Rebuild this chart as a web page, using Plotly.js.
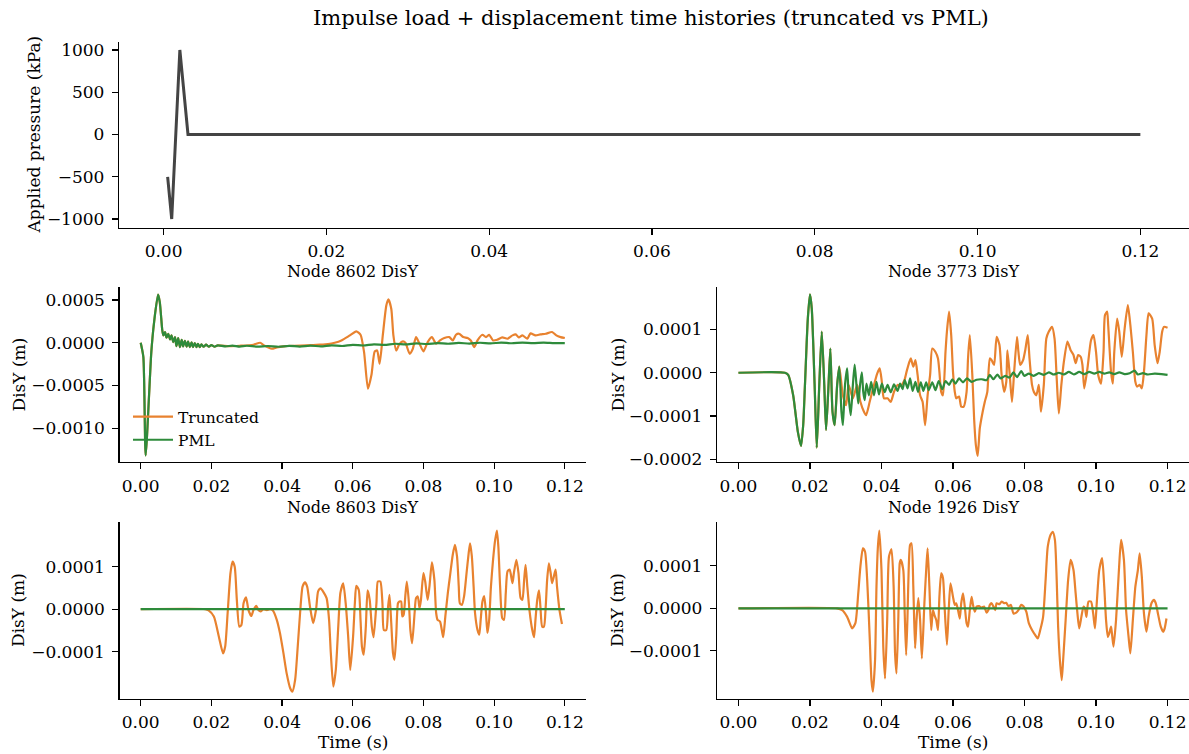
<!DOCTYPE html>
<html><head><meta charset="utf-8">
<script src="https://cdn.plot.ly/plotly-3.0.1.min.js"></script>
<style>html,body{margin:0;padding:0;background:#fff}#chart{width:1189px;height:754px}</style>
</head><body><div id="chart"></div>
<script>
// ---------- DATA ----------
const xTicks = [0, 0.02, 0.04, 0.06, 0.08, 0.10, 0.12];
const loadTicks = [-1000, -500, 0, 500, 1000];
const disTicksBig = [-0.001, -0.0005, 0, 0.0005];
const disTicks3773 = [-0.0002, -0.0001, 0, 0.0001];
const disTicksSmall = [-0.0001, 0, 0.0001];

// applied pressure (kPa)
const loadTime = [0.0005, 0.001, 0.002, 0.003, 0.12];
const loadKPa = [-500, -1000, 1000, 0, 0];

// Node 8602 DisY (m): common early response, then each model
const early8602 = [[0,0],[0.00075,-1.67e-4],[0.0014,-13.16e-4],[0.003,-1.09e-4],[0.0038,2.45e-4],[0.0049,5.61e-4],[0.0054,4.75e-4],[0.0061,1.48e-4],[0.0064,0.86e-4],[0.0069,1.25e-4],[0.0073,0.58e-4],[0.0078,1.05e-4],[0.0083,0.39e-4],[0.0087,0.86e-4],[0.0092,0.08e-4],[0.0097,0.66e-4],[0.0101,-0.39e-4],[0.0106,0.55e-4],[0.0111,-0.51e-4],[0.0116,0.35e-4],[0.012,-0.43e-4],[0.0125,0.23e-4],[0.013,-0.47e-4],[0.0134,0.16e-4],[0.0139,-0.51e-4],[0.0144,0.04e-4],[0.0148,-0.51e-4],[0.0153,-0.04e-4],[0.0158,-0.51e-4],[0.0162,-0.12e-4],[0.0167,-0.51e-4],[0.0172,-0.19e-4],[0.0178,-0.47e-4],[0.0185,-0.23e-4],[0.0193,-0.47e-4],[0.02,-0.27e-4],[0.0209,-0.47e-4],[0.0218,-0.31e-4]];
const pml8602 = [[0.024,-0.43e-4],[0.026,-0.33e-4],[0.028,-0.45e-4],[0.03,-0.35e-4],[0.033,-0.45e-4],[0.036,-0.38e-4],[0.039,-0.47e-4],[0.042,-0.36e-4],[0.045,-0.45e-4],[0.048,-0.34e-4],[0.051,-0.42e-4],[0.054,-0.3e-4],[0.057,-0.38e-4],[0.06,-0.25e-4],[0.063,-0.32e-4],[0.066,-0.18e-4],[0.069,-0.25e-4],[0.072,-0.12e-4],[0.075,-0.2e-4],[0.078,-0.08e-4],[0.081,-0.15e-4],[0.084,-0.05e-4],[0.087,-0.12e-4],[0.09,-0.02e-4],[0.093,-0.1e-4],[0.096,0],[0.099,-0.08e-4],[0.102,0.02e-4],[0.105,-0.06e-4],[0.108,0.02e-4],[0.111,-0.05e-4],[0.114,0.02e-4],[0.117,-0.04e-4],[0.12,-0.04e-4]];
const trunc8602 = [[0.025,-0.4e-4],[0.028,-0.35e-4],[0.0319,-0.23e-4],[0.0338,0],[0.0349,-0.31e-4],[0.0371,-0.7e-4],[0.0385,-0.55e-4],[0.0404,-0.43e-4],[0.0432,-0.35e-4],[0.0469,-0.31e-4],[0.0507,-0.23e-4],[0.053,-0.16e-4],[0.0549,0],[0.0568,0.27e-4],[0.0592,0.86e-4],[0.061,1.32e-4],[0.0622,0.93e-4],[0.0632,-1.09e-4],[0.0643,-5.37e-4],[0.0653,-3.74e-4],[0.0662,-1.05e-4],[0.0669,-0.9e-4],[0.0676,-2.45e-4],[0.0685,0.86e-4],[0.0695,4.36e-4],[0.0701,5.06e-4],[0.0709,3.97e-4],[0.0715,0.86e-4],[0.0723,-0.9e-4],[0.0732,-0.16e-4],[0.0742,0.16e-4],[0.0749,0],[0.0761,-1.29e-4],[0.077,-0.7e-4],[0.0779,0.66e-4],[0.0789,-0.12e-4],[0.08,-1.01e-4],[0.0812,0.08e-4],[0.0824,0.66e-4],[0.0836,-0.12e-4],[0.0847,0.27e-4],[0.0859,0.55e-4],[0.0873,0.66e-4],[0.0883,0.27e-4],[0.0892,0.93e-4],[0.0901,1.05e-4],[0.0913,0.66e-4],[0.0925,0.55e-4],[0.0934,0.27e-4],[0.0944,-0.51e-4],[0.0953,0.27e-4],[0.0967,0.93e-4],[0.0977,0.66e-4],[0.0986,0.93e-4],[0.0997,0.27e-4],[0.1009,0.35e-4],[0.1023,0.62e-4],[0.1038,0.47e-4],[0.1052,0.86e-4],[0.1061,0.97e-4],[0.107,0.62e-4],[0.108,0.86e-4],[0.1094,0.47e-4],[0.1103,1.09e-4],[0.1117,0.86e-4],[0.1131,0.97e-4],[0.1146,1.05e-4],[0.1164,1.25e-4],[0.1176,0.86e-4],[0.1188,0.66e-4],[0.12,0.55e-4]];

// Node 3773 DisY (m)
const early3773 = [[0,0],[0.013,0],[0.0139,-0.05e-4],[0.0153,-0.52e-4],[0.0166,-1.36e-4],[0.0175,-1.69e-4],[0.0181,-1.21e-4],[0.0186,-0.28e-4],[0.0194,1.25e-4],[0.02,1.81e-4],[0.0205,1.48e-4],[0.0213,-0.28e-4],[0.0219,-1.73e-4],[0.0226,-0.28e-4],[0.0233,0.95e-4],[0.024,-0.28e-4],[0.0245,-1.32e-4],[0.0251,-0.44e-4],[0.0257,0.56e-4],[0.0263,-0.9e-4],[0.0269,-1.21e-4],[0.0276,-0.28e-4],[0.0282,0.14e-4]];
const pml3773 = [[0.0288,-0.9e-4],[0.0292,-1.21e-4],[0.0298,-0.28e-4],[0.0304,0.1e-4],[0.0308,-0.52e-4],[0.0314,-0.98e-4],[0.032,-0.28e-4],[0.0325,0.19e-4],[0.033,-0.28e-4],[0.0335,-0.71e-4],[0.034,-0.28e-4],[0.0345,0.01e-4],[0.0349,-0.44e-4],[0.0353,-0.63e-4],[0.0358,-0.25e-4],[0.0365,-0.52e-4],[0.0371,-0.21e-4],[0.0379,-0.52e-4],[0.0386,-0.21e-4],[0.0393,-0.5e-4],[0.0401,-0.25e-4],[0.0409,-0.45e-4],[0.0417,-0.28e-4],[0.0426,-0.45e-4],[0.0435,-0.27e-4],[0.0445,-0.42e-4],[0.0452,-0.25e-4],[0.0459,-0.38e-4],[0.0465,-0.17e-4],[0.0473,-0.36e-4],[0.048,-0.13e-4],[0.0487,-0.42e-4],[0.0495,-0.21e-4],[0.0502,-0.44e-4],[0.051,-0.22e-4],[0.0517,-0.42e-4],[0.0525,-0.22e-4],[0.0532,-0.4e-4],[0.0542,-0.22e-4],[0.0551,-0.4e-4],[0.056,-0.19e-4],[0.057,-0.38e-4],[0.0579,-0.19e-4],[0.0589,-0.28e-4],[0.0598,-0.15e-4],[0.0607,-0.25e-4],[0.0617,-0.13e-4],[0.0628,-0.22e-4],[0.0639,-0.13e-4],[0.0652,-0.21e-4],[0.0666,-0.16e-4],[0.068,-0.15e-4],[0.0694,-0.17e-4],[0.0703,-0.05e-4],[0.0713,-0.15e-4],[0.0724,-0.04e-4],[0.0733,-0.13e-4],[0.0746,-0.07e-4],[0.0758,-0.11e-4],[0.0769,0.01e-4],[0.0779,-0.1e-4],[0.0791,0.04e-4],[0.0799,-0.07e-4],[0.0812,-0.02e-4],[0.0826,-0.07e-4],[0.084,-0.01e-4],[0.0854,-0.05e-4],[0.0868,0.01e-4],[0.0882,-0.04e-4],[0.0896,0],[0.091,-0.04e-4],[0.0924,0.02e-4],[0.0938,-0.04e-4],[0.0953,0.02e-4],[0.0967,-0.03e-4],[0.0981,0.02e-4],[0.0995,-0.02e-4],[0.1009,0.02e-4],[0.1023,-0.02e-4],[0.1037,0.01e-4],[0.1051,-0.03e-4],[0.1065,0.01e-4],[0.108,-0.03e-4],[0.1094,-0.01e-4],[0.1108,0.05e-4],[0.1117,-0.04e-4],[0.1131,-0.01e-4],[0.1145,-0.04e-4],[0.1164,-0.02e-4],[0.1183,-0.03e-4],[0.12,-0.05e-4]];
const trunc3773 = [[0.0292,-0.52e-4],[0.0301,-0.75e-4],[0.0308,-0.28e-4],[0.032,-0.59e-4],[0.0332,-0.28e-4],[0.0341,-0.67e-4],[0.0351,-0.9e-4],[0.0357,-0.98e-4],[0.0367,-0.67e-4],[0.0374,-0.44e-4],[0.0388,-0.02e-4],[0.0395,0.1e-4],[0.0401,-0.21e-4],[0.0407,-0.59e-4],[0.0417,-0.59e-4],[0.0426,-0.67e-4],[0.0435,-0.44e-4],[0.0445,-0.28e-4],[0.0454,-0.3e-4],[0.0464,-0.17e-4],[0.047,0.02e-4],[0.0478,0.25e-4],[0.0482,0.33e-4],[0.0489,0.14e-4],[0.0495,0.29e-4],[0.0501,-0.05e-4],[0.0508,-0.52e-4],[0.0515,-0.67e-4],[0.0522,-1.21e-4],[0.0529,-0.52e-4],[0.0536,-0.05e-4],[0.0542,0.56e-4],[0.0551,0.48e-4],[0.0558,0.33e-4],[0.0562,0.02e-4],[0.0567,-0.44e-4],[0.0572,-0.52e-4],[0.0579,0.48e-4],[0.0583,0.95e-4],[0.0589,1.41e-4],[0.0595,0.87e-4],[0.06,0.02e-4],[0.0605,-0.44e-4],[0.0609,-0.59e-4],[0.0617,-0.55e-4],[0.0623,-0.78e-4],[0.063,-0.78e-4],[0.0638,-0.44e-4],[0.0642,0.33e-4],[0.0647,0.87e-4],[0.0654,-0.05e-4],[0.0659,-1.05e-4],[0.0664,-1.67e-4],[0.0669,-1.92e-4],[0.0675,-1.28e-4],[0.0683,-0.9e-4],[0.0689,-0.67e-4],[0.0696,-0.44e-4],[0.0703,0.33e-4],[0.0708,0.29e-4],[0.0715,0.18e-4],[0.0722,0.83e-4],[0.073,0.64e-4],[0.0736,-0.05e-4],[0.0743,-0.44e-4],[0.0749,-0.21e-4],[0.0752,0.52e-4],[0.0758,0.02e-4],[0.0765,-0.67e-4],[0.0771,0.02e-4],[0.0779,0.83e-4],[0.0783,0.48e-4],[0.0788,0.18e-4],[0.0796,0.29e-4],[0.0802,0.52e-4],[0.0809,0.87e-4],[0.0814,0.33e-4],[0.0821,-0.28e-4],[0.0826,-0.44e-4],[0.0833,-0.52e-4],[0.084,-0.28e-4],[0.0846,-0.9e-4],[0.0854,-0.28e-4],[0.0861,0.79e-4],[0.0868,0.95e-4],[0.0877,1.06e-4],[0.0884,0.79e-4],[0.089,-0.13e-4],[0.0896,-0.94e-4],[0.0903,-0.28e-4],[0.091,0.25e-4],[0.092,0.72e-4],[0.0929,0.52e-4],[0.0937,0.41e-4],[0.0943,0.22e-4],[0.095,0.41e-4],[0.0957,0.37e-4],[0.0962,0.18e-4],[0.0967,-0.36e-4],[0.0976,0.1e-4],[0.0986,0.75e-4],[0.0993,0.87e-4],[0.1,0.48e-4],[0.1006,-0.05e-4],[0.1014,-0.25e-4],[0.1021,0.48e-4],[0.1025,1.33e-4],[0.1031,1.41e-4],[0.1034,1.1e-4],[0.1042,0.02e-4],[0.1047,-0.25e-4],[0.1051,0.48e-4],[0.1059,1.25e-4],[0.1065,0.95e-4],[0.1072,0.37e-4],[0.108,1.02e-4],[0.1089,1.56e-4],[0.1096,1.1e-4],[0.1103,0.48e-4],[0.111,-0.21e-4],[0.1115,-0.32e-4],[0.1122,-0.28e-4],[0.1128,-0.36e-4],[0.1134,0.02e-4],[0.1141,0.87e-4],[0.1147,1.37e-4],[0.1157,1.25e-4],[0.1164,0.64e-4],[0.1172,0.22e-4],[0.1178,0.48e-4],[0.1185,0.95e-4],[0.119,1.06e-4],[0.12,1.04e-4]];

// Node 8603 DisY (m)
const pml8603 = [[0,0],[0.12,0]];
const trunc8603 = [[0,0],[0.0183,0],[0.0192,-0.03e-4],[0.0207,-0.17e-4],[0.0221,-0.64e-4],[0.0233,-1.04e-4],[0.0239,-0.88e-4],[0.0246,-0.09e-4],[0.0254,0.85e-4],[0.026,1.12e-4],[0.0266,1.0e-4],[0.0272,0.22e-4],[0.0279,-0.41e-4],[0.0285,-0.37e-4],[0.0291,0.14e-4],[0.0298,0.28e-4],[0.0305,-0.02e-4],[0.0313,-0.16e-4],[0.0319,-0.02e-4],[0.0327,0.08e-4],[0.0333,-0.02e-4],[0.034,-0.05e-4],[0.0347,0],[0.0357,-0.02e-4],[0.0366,0],[0.0374,-0.03e-4],[0.0385,-0.25e-4],[0.0394,-0.56e-4],[0.0404,-1.04e-4],[0.0413,-1.51e-4],[0.0423,-1.86e-4],[0.0429,-1.94e-4],[0.0437,-1.66e-4],[0.0443,-1.04e-4],[0.0451,-0.09e-4],[0.0458,0.53e-4],[0.0465,0.63e-4],[0.0471,0.53e-4],[0.0479,0.06e-4],[0.0488,-0.33e-4],[0.0496,-0.02e-4],[0.0502,0.42e-4],[0.0509,0.49e-4],[0.0518,0.39e-4],[0.0526,0.26e-4],[0.0533,-0.25e-4],[0.0538,-1.04e-4],[0.0545,-1.82e-4],[0.0552,-1.43e-4],[0.0559,-0.41e-4],[0.0565,0.38e-4],[0.0573,0.61e-4],[0.058,0.14e-4],[0.0587,-0.64e-4],[0.0593,-1.43e-4],[0.0601,-0.64e-4],[0.0606,0.14e-4],[0.061,0.55e-4],[0.0617,0.45e-4],[0.0622,-0.25e-4],[0.0626,-0.88e-4],[0.0631,-1.07e-4],[0.0637,-0.41e-4],[0.0642,0.44e-4],[0.0648,0.22e-4],[0.0654,-0.41e-4],[0.0659,-0.66e-4],[0.0667,0.14e-4],[0.0671,0.65e-4],[0.0678,0.65e-4],[0.0684,0.14e-4],[0.0688,-0.49e-4],[0.0695,-0.49e-4],[0.07,0.06e-4],[0.0704,0.34e-4],[0.0709,-0.33e-4],[0.0714,-1.04e-4],[0.0718,-1.19e-4],[0.0723,-0.64e-4],[0.0728,0.14e-4],[0.0732,0.18e-4],[0.0737,0.18e-4],[0.074,-0.17e-4],[0.0744,-0.13e-4],[0.0749,0.34e-4],[0.0753,0.65e-4],[0.0759,0.14e-4],[0.0763,-0.49e-4],[0.0768,-0.8e-4],[0.0775,-0.09e-4],[0.0779,0.26e-4],[0.0784,0.3e-4],[0.0789,0.02e-4],[0.0793,0.22e-4],[0.08,0.85e-4],[0.0805,0.65e-4],[0.0808,0.45e-4],[0.0812,0.22e-4],[0.0817,0.53e-4],[0.0824,1.1e-4],[0.0831,0.69e-4],[0.0836,-0.09e-4],[0.084,-0.25e-4],[0.0847,-0.29e-4],[0.0852,-0.49e-4],[0.0856,-0.66e-4],[0.0862,-0.17e-4],[0.0869,0.38e-4],[0.0875,0.77e-4],[0.0883,1.28e-4],[0.0889,1.51e-4],[0.0895,1.24e-4],[0.09,0.53e-4],[0.0903,0.14e-4],[0.0909,0.1e-4],[0.0915,0.3e-4],[0.0922,0.85e-4],[0.0928,1.32e-4],[0.0932,1.55e-4],[0.0937,1.24e-4],[0.0942,0.53e-4],[0.0946,-0.09e-4],[0.0953,-0.49e-4],[0.0958,-0.6e-4],[0.0962,-0.25e-4],[0.0967,0.18e-4],[0.0972,0.31e-4],[0.0977,-0.09e-4],[0.0981,-0.56e-4],[0.0986,-0.25e-4],[0.0991,0.53e-4],[0.0997,1.16e-4],[0.1003,1.63e-4],[0.1008,1.85e-4],[0.1012,1.47e-4],[0.1017,0.53e-4],[0.1023,-0.21e-4],[0.1028,-0.25e-4],[0.1033,0.38e-4],[0.1038,0.89e-4],[0.1044,0.93e-4],[0.1052,0.61e-4],[0.1056,0.85e-4],[0.1063,1.16e-4],[0.1069,0.85e-4],[0.1075,0.26e-4],[0.108,0.22e-4],[0.1085,0.69e-4],[0.1089,1.04e-4],[0.1094,0.53e-4],[0.11,-0.02e-4],[0.1108,-0.49e-4],[0.1113,-0.66e-4],[0.1117,-0.25e-4],[0.1122,0.22e-4],[0.1127,0.44e-4],[0.1131,0.06e-4],[0.1136,-0.41e-4],[0.1141,-0.41e-4],[0.1146,0.06e-4],[0.115,0.69e-4],[0.1155,1.08e-4],[0.116,0.85e-4],[0.1164,0.61e-4],[0.1169,0.77e-4],[0.1174,0.93e-4],[0.1178,0.53e-4],[0.1185,-0.02e-4],[0.1192,-0.35e-4]];

// Node 1926 DisY (m)
const pml1926 = [[0,0],[0.12,0]];
const trunc1926 = [[0,0],[0.0276,0],[0.029,-0.04e-4],[0.0304,-0.2e-4],[0.0318,-0.47e-4],[0.0327,-0.35e-4],[0.0335,0.35e-4],[0.0341,0.98e-4],[0.0348,1.41e-4],[0.0354,1.33e-4],[0.036,0.67e-4],[0.0367,-0.67e-4],[0.0372,-1.69e-4],[0.0376,-1.96e-4],[0.0382,-1.22e-4],[0.0386,0.51e-4],[0.039,1.45e-4],[0.0394,1.83e-4],[0.04,0.9e-4],[0.0405,-0.9e-4],[0.041,-1.65e-4],[0.0416,-0.27e-4],[0.0421,1.22e-4],[0.0428,1.39e-4],[0.0434,0.51e-4],[0.0438,-1.06e-4],[0.0442,-1.53e-4],[0.0447,-0.27e-4],[0.0451,1.06e-4],[0.0454,1.14e-4],[0.0461,0.9e-4],[0.0465,-0.12e-4],[0.0469,-1.1e-4],[0.0473,-0.12e-4],[0.0476,0.9e-4],[0.048,1.49e-4],[0.0484,1.53e-4],[0.0489,0.51e-4],[0.0494,-0.94e-4],[0.0498,-0.27e-4],[0.0503,0.24e-4],[0.0508,-0.27e-4],[0.0513,-1.18e-4],[0.052,0.12e-4],[0.0525,0.9e-4],[0.0529,1.41e-4],[0.0534,0.51e-4],[0.0539,-0.51e-4],[0.0544,-0.04e-4],[0.0548,-0.16e-4],[0.0553,-0.27e-4],[0.0558,-0.51e-4],[0.0562,0.27e-4],[0.0567,0.82e-4],[0.0572,0.71e-4],[0.0576,0.12e-4],[0.0583,-0.86e-4],[0.0588,-0.04e-4],[0.0593,0.59e-4],[0.06,0.27e-4],[0.0605,0.08e-4],[0.0609,0.12e-4],[0.0614,-0.04e-4],[0.0619,-0.24e-4],[0.0623,0.12e-4],[0.0628,0.35e-4],[0.0633,0.04e-4],[0.0638,-0.35e-4],[0.0642,-0.43e-4],[0.0647,-0.04e-4],[0.0652,0.27e-4],[0.0656,0.08e-4],[0.0661,-0.08e-4],[0.0666,0.04e-4],[0.0673,0.05e-4],[0.068,0.02e-4],[0.0687,0.04e-4],[0.0694,-0.1e-4],[0.0699,-0.04e-4],[0.0703,0.08e-4],[0.0708,0.12e-4],[0.0713,0.04e-4],[0.0718,-0.04e-4],[0.0722,0.12e-4],[0.073,0.1e-4],[0.0736,0.16e-4],[0.0743,0.12e-4],[0.0749,0.13e-4],[0.0755,0.05e-4],[0.0762,0.08e-4],[0.0769,-0.12e-4],[0.0777,-0.1e-4],[0.0783,-0.04e-4],[0.0791,0.08e-4],[0.0797,0.05e-4],[0.0805,-0.08e-4],[0.0812,-0.35e-4],[0.0821,-0.51e-4],[0.083,-0.63e-4],[0.0837,-0.71e-4],[0.0844,-0.51e-4],[0.0852,-0.2e-4],[0.0859,0.67e-4],[0.0865,1.45e-4],[0.0873,1.73e-4],[0.0879,1.8e-4],[0.0885,1.61e-4],[0.089,0.67e-4],[0.0894,-0.43e-4],[0.0899,-1.22e-4],[0.0904,-1.69e-4],[0.0908,-1.22e-4],[0.0915,-0.27e-4],[0.0922,0.67e-4],[0.0929,1.14e-4],[0.0937,0.9e-4],[0.0943,0.35e-4],[0.0948,-0.12e-4],[0.0953,-0.47e-4],[0.0959,-0.2e-4],[0.0965,0.04e-4],[0.0969,0],[0.0973,-0.2e-4],[0.0979,0.16e-4],[0.0986,0.16e-4],[0.0992,-0.12e-4],[0.0997,-0.47e-4],[0.1002,0.12e-4],[0.1009,0.9e-4],[0.1017,1.18e-4],[0.1023,0.51e-4],[0.1028,-0.27e-4],[0.1033,-0.67e-4],[0.1037,-0.59e-4],[0.1042,-0.43e-4],[0.1045,-0.63e-4],[0.1049,-0.9e-4],[0.1056,-0.27e-4],[0.1064,0.9e-4],[0.107,1.61e-4],[0.1078,1.14e-4],[0.1084,-0.04e-4],[0.1091,-0.67e-4],[0.1096,-1.06e-4],[0.1103,-0.27e-4],[0.111,0.51e-4],[0.1117,0.9e-4],[0.1122,1.29e-4],[0.1128,0.75e-4],[0.1134,-0.12e-4],[0.1141,-0.55e-4],[0.1147,-0.2e-4],[0.1155,0.12e-4],[0.1162,0.2e-4],[0.1167,0.12e-4],[0.1174,-0.16e-4],[0.1181,-0.43e-4],[0.1188,-0.55e-4],[0.1192,-0.47e-4],[0.1197,-0.24e-4]];

// ---------- STYLE ----------
const FONT = '"DejaVu Serif", serif';
const ORANGE = '#E8822F', GREEN = '#2E8B3B', LOADC = '#444444';
const W = 1189, H = 754;
const px = v => v / W, py = v => 1 - v / H;

const tx = a => a.map(p => p[0]);
const vy = a => a.map(p => p[1]);

function series(pts, color, name, xa, ya, show) {
  return {x: tx(pts), y: vy(pts), type: 'scatter', mode: 'lines', name: name,
    legendgroup: name, showlegend: show, xaxis: xa, yaxis: ya,
    line: {color: color, width: 2.2, shape: 'spline', smoothing: 0.6}, hoverinfo: 'skip'};
}

const traces = [
  {x: loadTime, y: loadKPa, type: 'scatter', mode: 'lines', showlegend: false,
   xaxis: 'x', yaxis: 'y', line: {color: LOADC, width: 3}, hoverinfo: 'skip'},
  series(early8602.concat(trunc8602), ORANGE, 'Truncated', 'x2', 'y2', true),
  series(early8602.concat(pml8602), GREEN, 'PML', 'x2', 'y2', true),
  series(early3773.concat(trunc3773), ORANGE, 'Truncated', 'x3', 'y3', false),
  series(early3773.concat(pml3773), GREEN, 'PML', 'x3', 'y3', false),
  series(trunc8603, ORANGE, 'Truncated', 'x4', 'y4', false),
  series(pml8603, GREEN, 'PML', 'x4', 'y4', false),
  series(trunc1926, ORANGE, 'Truncated', 'x5', 'y5', false),
  series(pml1926, GREEN, 'PML', 'x5', 'y5', false)
];

const base = {showline: true, linecolor: '#000', linewidth: 1.2, ticks: 'outside', ticklen: 6,
  tickwidth: 1.2, tickcolor: '#000', showgrid: false, zeroline: false, mirror: false,
  fixedrange: true, automargin: false, ticklabelstandoff: 4,
  tickfont: {family: FONT, size: 17, color: '#000'}};
const xa = (dom, anchor, range) => Object.assign({}, base, {domain: dom, anchor: anchor, range: range,
  tickmode: 'array', tickvals: xTicks, ticktext: xTicks.map(v => v.toFixed(2)), ticklabelstandoff: 2});
const ya = (dom, anchor, range, vals, fmt) => Object.assign({}, base, {domain: dom, anchor: anchor, range: range,
  tickmode: 'array', tickvals: vals, ticktext: vals.map(fmt)});
const minus = s => s.replace('-', '\u2212');
const f4 = v => minus(v.toFixed(4));
const f0 = v => minus(String(v));

const colL = [px(119.5), px(586)], colR = [px(717), 1];
const rowTop = [py(227.5), py(41.5)], rowMid = [py(462), py(287)], rowBot = [py(698.5), py(522)];
const xr = [-0.006, 0.126];

const ann = (text, x, y, size, angle) => ({text: text, x: x, y: y, xref: 'paper', yref: 'paper',
  xanchor: 'center', yanchor: 'middle', showarrow: false, textangle: angle || 0,
  font: {family: FONT, size: size, color: '#000'}});

const layout = {
  width: W, height: H, margin: {l: 0, r: 0, t: 0, b: 0, pad: 0},
  paper_bgcolor: '#fff', plot_bgcolor: '#fff', showlegend: true,
  legend: {x: px(128), y: py(400), xanchor: 'left', yanchor: 'top', bgcolor: 'rgba(0,0,0,0)',
    font: {family: FONT, size: 15.5, color: '#000'}, traceorder: 'grouped', tracegroupgap: 0,
    itemwidth: 40},
  xaxis: xa([px(119), 1], 'y', [-0.005475, 0.125975]),
  yaxis: ya(rowTop, 'x', [-1100, 1100], loadTicks, f0),
  xaxis2: xa(colL, 'y2', xr),
  yaxis2: ya(rowMid, 'x2', [-0.001393, 0.000651], disTicksBig, f4),
  xaxis3: xa(colR, 'y3', xr),
  yaxis3: ya(rowMid, 'x3', [-0.000206, 0.000198], disTicks3773, f4),
  xaxis4: xa(colL, 'y4', xr),
  yaxis4: ya(rowBot, 'x4', [-0.00021, 0.000205], disTicksSmall, f4),
  xaxis5: xa(colR, 'y5', xr),
  yaxis5: ya(rowBot, 'x5', [-0.000212, 0.000203], disTicksSmall, f4),
  annotations: [
    ann('Impulse load + displacement time histories (truncated vs PML)', px(651), py(18), 21),
    ann('Node 8602 DisY', px(352.7), py(271), 16),
    ann('Node 3773 DisY', px(953), py(271), 16),
    ann('Node 8603 DisY', px(352.7), py(507), 16),
    ann('Node 1926 DisY', px(953), py(507), 16),
    ann('Applied pressure (kPa)', px(33), py(134.5), 17, -90),
    ann('DisY (m)', px(18), py(374.5), 17, -90),
    ann('DisY (m)', px(617), py(374.5), 17, -90),
    ann('DisY (m)', px(18), py(610), 17, -90),
    ann('DisY (m)', px(617), py(610), 17, -90),
    ann('Time (s)', px(352.7), py(742), 17),
    ann('Time (s)', px(953), py(742), 17)
  ]
};

Plotly.newPlot('chart', traces, layout, {staticPlot: true, displayModeBar: false});
</script></body></html>
